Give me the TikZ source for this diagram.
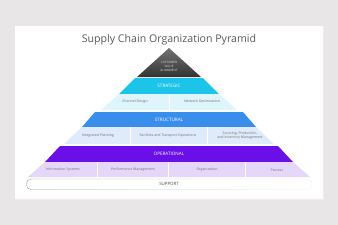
\documentclass[tikz,border=0pt]{standalone}
\usepackage{fontspec}
\setmainfont{Open Sans}
\usetikzlibrary{fadings}
\definecolor{bgc}{HTML}{E8E6E6}
\definecolor{titlec}{HTML}{5A5A5A}
\definecolor{cyanband}{HTML}{1DC4E9}
\definecolor{cyanrow}{HTML}{DDF5FB}
\definecolor{blueband}{HTML}{3A8EEB}
\definecolor{bluerow}{HTML}{DFEBFA}
\definecolor{purpband}{HTML}{6A0FE8}
\definecolor{purprow}{HTML}{E5D7F9}
\definecolor{rowtext}{HTML}{6E6E6E}
\tikzfading[name=fadeRight, left color=transparent!0, right color=transparent!90]
\tikzset{
  titlestyle/.style={text=titlec, font=\fontsize{10.6}{12}\selectfont, inner sep=0pt},
  bandlabel/.style={text=white, font=\fontsize{4.6}{5.5}\selectfont, inner sep=0pt},
  rowlabel/.style={text=rowtext, font=\fontsize{3.5}{4.3}\selectfont, inner sep=0pt, align=center},
  toplabel/.style={text=white!75!gray, font=\fontsize{3}{4.4}\selectfont, inner sep=0pt, align=center},
  divider/.style={white, line width=0.7pt},
}
\begin{document}
\begin{tikzpicture}[x=1pt,y=-1pt]
\useasboundingbox (0,0) rectangle (338,225);
\fill[bgc] (0,0) rectangle (338,225);
\fill[black!7] (15.6,26.6) rectangle (323.6,200);
\fill[white] (15,26) rectangle (323,199);
\node[titlestyle] (title) at (169,40) {Supply Chain Organization Pyramid};
% apex triangle
\shade[top color=black!55, bottom color=black!80] (169,48) -- (201,77) -- (137,77) -- cycle;
\node[toplabel] (cva) at (169,66.5) {CUSTOMER\\VALUE\\ALIGNMENT};
% strategic
\fill[cyanband] (135,78) -- (203,78) -- (219,94) -- (119,94) -- cycle;
\node[bandlabel] (strat) at (169,86) {STRATEGIC};
\fill[cyanrow] (119,94) -- (219,94) -- (237,110) -- (101,110) -- cycle;
\draw[divider] (169,94) -- (169,110);
\node[rowlabel] (cd) at (135,102) {Channel Design};
\node[rowlabel] (no) at (202,102) {Network Optimization};
% structural
\fill[blueband] (95,112) -- (243,112) -- (256,127) -- (82,127) -- cycle;
\node[bandlabel] (struct) at (169,120) {STRUCTURAL};
\fill[bluerow] (82,127) -- (256,127) -- (274,144) -- (64,144) -- cycle;
\draw[divider] (130,127) -- (130,144);
\draw[divider] (207,127) -- (207,144);
\node[rowlabel] (ip) at (98,136) {Integrated Planning};
\node[rowlabel] (fto) at (168,136) {Facilities and Transport Operations};
\node[rowlabel] (spi) at (240,135.5) {Sourcing, Production,\\and Inventory Management};
% operational
\fill[purpband] (60,146) -- (278,146) -- (293,162) -- (45,162) -- cycle;
\node[bandlabel] (oper) at (169,154) {OPERATIONAL};
\fill[purprow] (45,162) -- (293,162) -- (310,177) -- (28,177) -- cycle;
\draw[divider] (97,162) -- (97,177);
\draw[divider] (168,162) -- (168,177);
\draw[divider] (245,162) -- (245,177);
\node[rowlabel] (is) at (63,170) {Information Systems};
\node[rowlabel] (pm) at (133,170) {Performance Management};
\node[rowlabel] (org) at (207,170) {Organization};
\node[rowlabel] (proc) at (277,170) {Process};
% support
\draw[black!40, line width=0.4pt, path fading=fadeRight, rounded corners=4.5pt] (26.5,179) rectangle (312,189.5);
\node[rowlabel, font=\fontsize{4.4}{5}\selectfont, text=black!70] (sup) at (169,184.3) {SUPPORT};
\end{tikzpicture}
\end{document}
